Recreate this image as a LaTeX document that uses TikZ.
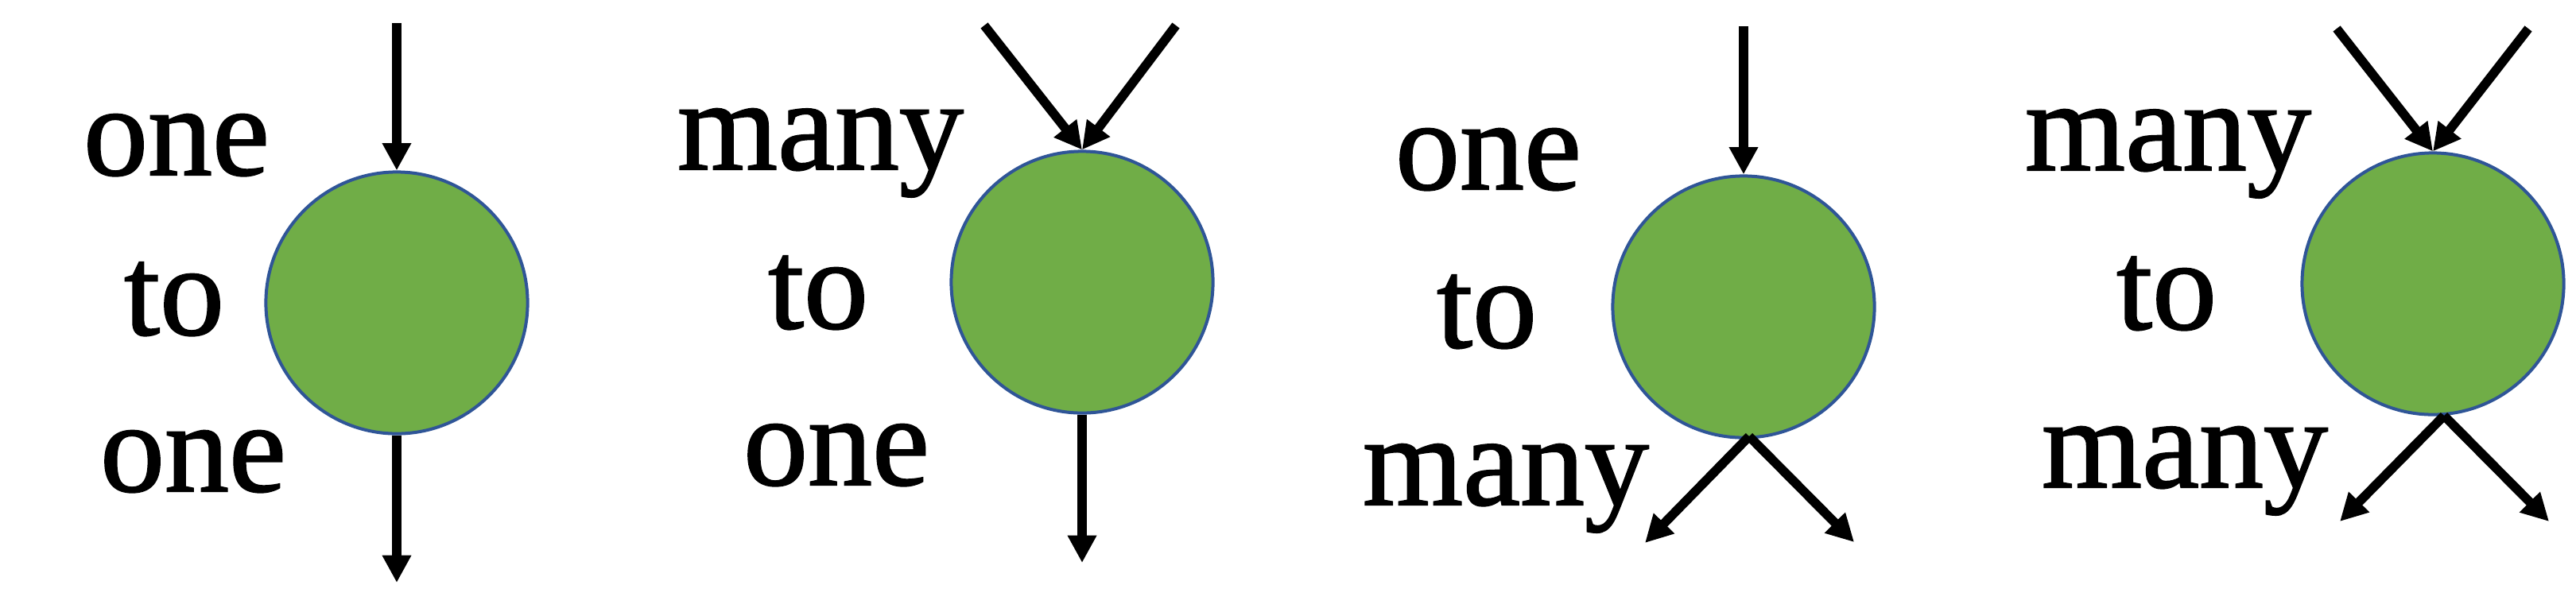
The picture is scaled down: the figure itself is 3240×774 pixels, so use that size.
\documentclass[tikz,border=0pt]{standalone}
\usepackage{fontspec}
\setmainfont{Liberation Serif}[FakeBold=1.3]
\usetikzlibrary{arrows.meta}
\definecolor{nodegreen}{HTML}{70AD47}
\definecolor{nodeblue}{HTML}{2F5597}
\begin{document}
\begin{tikzpicture}[x=0.25pt,y=-0.25pt,
  proc/.style={circle,fill=nodegreen,draw=nodeblue,line width=1pt,minimum size=82.3pt,inner sep=0pt},
  lbl/.style={anchor=base,inner sep=0pt,font=\fontsize{40.5}{48}\selectfont},
  flow/.style={line width=2.9pt,-{Triangle[width=8.6pt,length=8.6pt]}}]
\useasboundingbox (0,0) rectangle (3240,774);
% panel 1
\node[proc] (c1) at (499,381) {};
\node[lbl] (t1a) at (222,220) {one};
\node[lbl] (t1b) at (219,421) {to};
\node[lbl] (t1c) at (243,618) {one};
\coordinate (a1) at (499,29);
\coordinate (b1) at (499,733);
\draw[flow] (a1) -- (c1.north);
\draw[flow] (c1.south) -- (b1);
% panel 2
\node[proc] (c2) at (1361,355) {};
\node[lbl] (t2a) at (1032,213) {many};
\node[lbl] (t2b) at (1029,413) {to};
\node[lbl] (t2c) at (1052,610) {one};
\coordinate (a2l) at (1238,32);
\coordinate (a2r) at (1479,32);
\coordinate (b2) at (1361,708);
\draw[flow] (a2l) -- (c2.north);
\draw[flow] (a2r) -- (c2.north);
\draw[flow] (c2.south) -- (b2);
% panel 3
\node[proc] (c3) at (2193,386) {};
\node[lbl] (t3a) at (1872,238) {one};
\node[lbl] (t3b) at (1870,437) {to};
\node[lbl] (t3c) at (1894,635) {many};
\coordinate (a3) at (2193,33);
\coordinate (v3) at (2200,549);
\coordinate (l3) at (2069,683);
\coordinate (r3) at (2332,682);
\draw[flow] (a3) -- (c3.north);
\draw[flow] (v3) -- (l3);
\draw[flow] (v3) -- (r3);
% panel 4
\node[proc] (c4) at (3060,357) {};
\node[lbl] (t4a) at (2727,214) {many};
\node[lbl] (t4b) at (2725,414) {to};
\node[lbl] (t4c) at (2748,613) {many};
\coordinate (a4l) at (2939,36);
\coordinate (a4r) at (3180,36);
\coordinate (v4) at (3074,523);
\coordinate (l4) at (2943,656);
\coordinate (r4) at (3206,656);
\draw[flow] (a4l) -- (c4.north);
\draw[flow] (a4r) -- (c4.north);
\draw[flow] (v4) -- (l4);
\draw[flow] (v4) -- (r4);
\end{tikzpicture}
\end{document}
